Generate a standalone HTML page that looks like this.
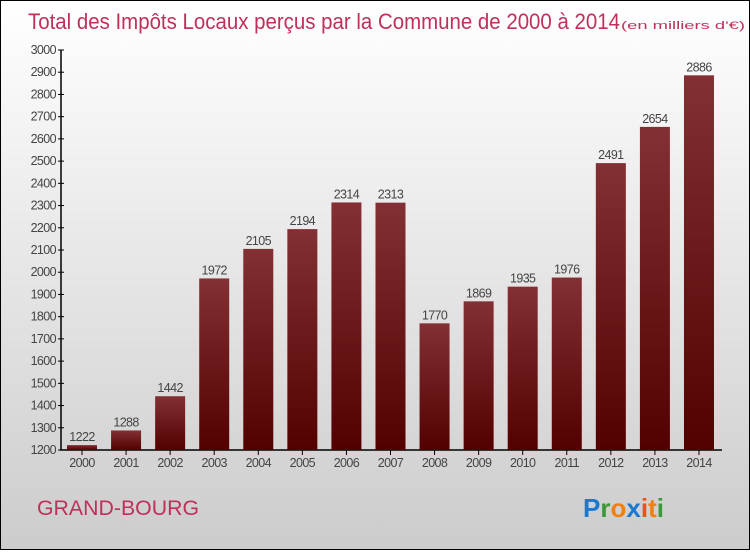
<!DOCTYPE html>
<html><head><meta charset="utf-8"><style>
body{margin:0}
#c{width:748px;height:548px;border:1px solid #000;background:linear-gradient(#fff,#ccc);position:relative;font-family:"Liberation Sans",sans-serif}
</style></head><body>
<div id="c">
<svg width="748" height="548" font-family="Liberation Sans, sans-serif">
<defs><linearGradient id="g" x1="0" y1="0" x2="0" y2="1"><stop offset="0" stop-color="#833034"/><stop offset="1" stop-color="#530000"/></linearGradient></defs>
<text x="27" y="28" font-size="22" fill="#c0305a" textLength="592" lengthAdjust="spacingAndGlyphs">Total des Impôts Locaux perçus par la Commune de 2000 à 2014</text>
<text x="620" y="28" font-size="11" fill="#c0305a" textLength="124" lengthAdjust="spacingAndGlyphs">(en milliers d'€)</text>
<g id="yax"></g><g id="bars"></g>
<text x="36" y="514" font-size="21" fill="#c0305a" textLength="162" lengthAdjust="spacingAndGlyphs">GRAND-BOURG</text>
<g font-size="26" font-weight="bold">
<text x="582" y="516"><tspan fill="#1a78d0">P</tspan><tspan fill="#3a9a3a">r</tspan><tspan fill="#f08010">o</tspan><tspan fill="#1a78d0">x</tspan><tspan fill="#f05010">i</tspan><tspan fill="#f08010">t</tspan><tspan fill="#3a9a3a">i</tspan></text></g>
</svg></div>
<script>
const years=["2000","2001","2002","2003","2004","2005","2006","2007","2008","2009","2010","2011","2012","2013","2014"];
const values=[1222,1288,1442,1972,2105,2194,2314,2313,1770,1869,1935,1976,2491,2654,2886];
const yTicks=[1200,1300,1400,1500,1600,1700,1800,1900,2000,2100,2200,2300,2400,2500,2600,2700,2800,2900,3000];
const NS="http://www.w3.org/2000/svg";
const y=v=>449-(v-1200)*400/1800;
const x=i=>81+i*44.07;
function mk(t,a,p){const e=document.createElementNS(NS,t);for(const k in a)e.setAttribute(k,a[k]);p.appendChild(e);return e;}
const ya=document.getElementById('yax'),bg=document.getElementById('bars');
const ax=mk('path',{d:'M60 49V449H721',stroke:'#000','stroke-width':1.5,fill:'none'},ya);


yTicks.forEach(v=>{
 mk('line',{x1:57,x2:63,y1:y(v),y2:y(v),stroke:'#000'},ya);
 const t=mk('text',{x:55,y:y(v)+4,'text-anchor':'end','font-size':12.5,fill:'#444','letter-spacing':'-0.6'},ya);
 t.textContent=v;
 
 
});
years.forEach((yr,i)=>{
 const r=mk('rect',{x:x(i)-15,y:y(values[i]),width:30,height:449-y(values[i]),fill:'url(#g)'},bg);
 
 
 const l=mk('text',{x:x(i),y:y(values[i])-4,'text-anchor':'middle','font-size':12.5,fill:'#444','letter-spacing':'-0.6'},bg);
 l.textContent=values[i];
 
 
 mk('line',{x1:x(i),x2:x(i),y1:449,y2:454,stroke:'#000'},bg);
 const xl=mk('text',{x:x(i),y:466,'text-anchor':'middle','font-size':12.5,fill:'#444','letter-spacing':'-0.6'},bg);
 xl.textContent=yr;
 
 
});
</script></body></html>
